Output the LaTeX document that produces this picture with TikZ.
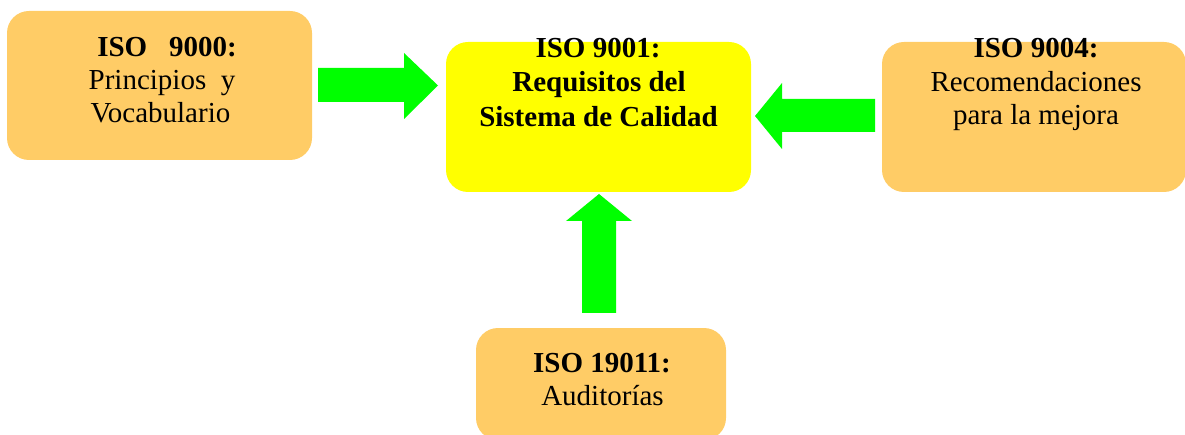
\documentclass[tikz,border=0pt]{standalone}
\usepackage{fontspec}
\setmainfont{Liberation Serif}
\definecolor{boxorange}{HTML}{FFCC66}
\definecolor{boxyellow}{HTML}{FFFF00}
\definecolor{arrowgreen}{HTML}{00FF00}
\begin{document}
\begin{tikzpicture}[x=1pt,y=-1pt,
  box/.style={draw=none,rounded corners=22pt,inner sep=0pt},
  txt/.style={anchor=base,inner sep=0pt,font=\fontsize{29}{34}\selectfont},
  btxt/.style={txt,font=\fontsize{29}{34}\selectfont\bfseries},
  blockarrow/.style={fill=arrowgreen,draw=none}]
\useasboundingbox (0,0) rectangle (1185,435);
% boxes
\node[box,fill=boxorange,minimum width=305pt,minimum height=149pt] (b9000) at (159.5,85.5) {};
\node[box,fill=boxyellow,minimum width=305pt,minimum height=150pt] (b9001) at (598.5,117) {};
\node[box,fill=boxorange,minimum width=304pt,minimum height=150pt] (b9004) at (1034,117) {};
\node[box,fill=boxorange,minimum width=250pt,minimum height=112pt] (b19011) at (601,384) {};
% arrows
\draw[blockarrow] (318,68) -- (404,68) -- (404,53) -- (438,85.5) -- (404,119) -- (404,102) -- (318,102) -- cycle;
\draw[blockarrow] (875,99) -- (782,99) -- (782,83) -- (755,116) -- (782,149) -- (782,132) -- (875,132) -- cycle;
\draw[blockarrow] (582,313) -- (582,221) -- (566,221) -- (599,194) -- (632,221) -- (616,221) -- (616,313) -- cycle;
% texts
\node[btxt] (t1a) at (167,57) {ISO\ \ \ 9000:};
\node[txt] (t1b) at (162,90) {Principios\ \ y};
\node[txt] (t1c) at (160.5,123) {Vocabulario};
\node[btxt] (t2a) at (598,58) {ISO 9001:};
\node[btxt] (t2b) at (599,92) {Requisitos del};
\node[btxt] (t2c) at (598.5,127) {Sistema de Calidad};
\node[btxt] (t3a) at (1036,58) {ISO 9004:};
\node[txt] (t3b) at (1036,92) {Recomendaciones};
\node[txt] (t3c) at (1036,125) {para la mejora};
\node[btxt] (t4a) at (602,372) {ISO 19011:};
\node[txt] (t4b) at (602.5,405) {Auditorías};
\end{tikzpicture}
\end{document}
